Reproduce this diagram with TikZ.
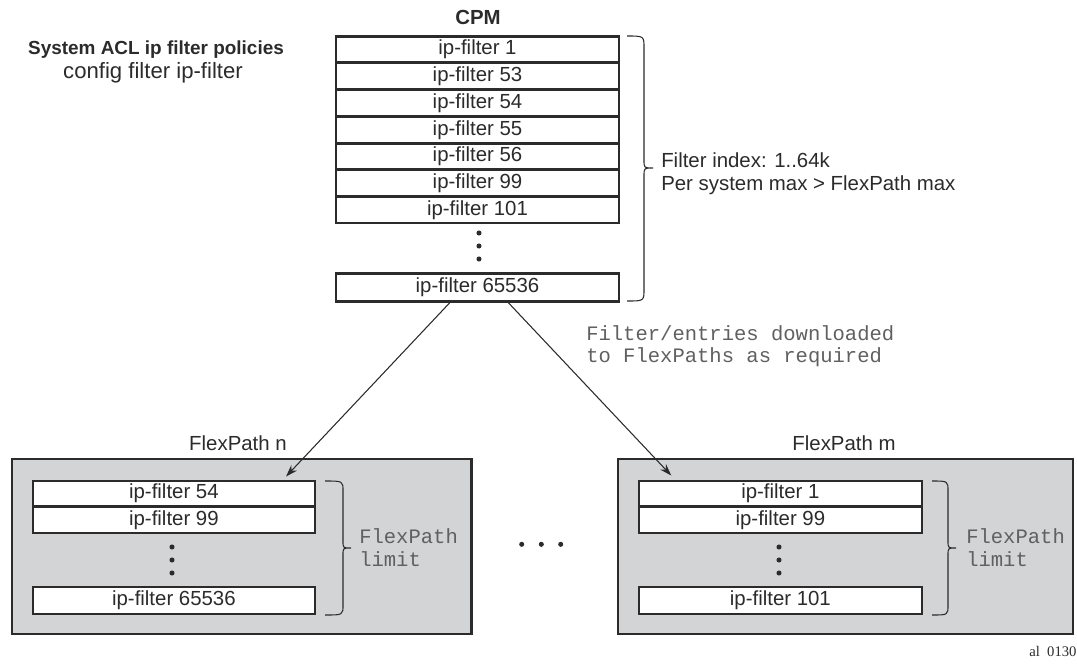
\documentclass[tikz,border=0pt]{standalone}
\usepackage{fontspec}
\setmainfont{Liberation Sans}
\setmonofont{Liberation Mono}
\newfontfamily\serifal{Liberation Serif}
\usetikzlibrary{arrows.meta,calc}
\definecolor{ink}{HTML}{2B2B2B}
\definecolor{panelgray}{HTML}{D3D4D6}
\definecolor{monogray}{HTML}{606060}
\begin{document}
\begin{tikzpicture}[x=0.75pt,y=-0.75pt,
  cell/.style={draw=ink,line width=1.7pt,fill=white,inner sep=0pt,
    minimum width=283*0.75pt,minimum height=26*0.75pt,
    font=\fontsize{15.3}{18}\selectfont,text=ink},
  panel/.style={draw=ink,line width=1.7pt,fill=panelgray,inner sep=0pt},
  sans/.style={inner sep=0pt,font=\fontsize{15.3}{18}\selectfont,text=ink},
  mono/.style={inner sep=0pt,anchor=west,font=\ttfamily\fontsize{15.4}{18}\selectfont,text=monogray},
  conn/.style={draw=ink,line width=0.8pt,-{Stealth[length=9pt,width=6pt]}},
  bracel/.style={draw=ink,line width=0.8pt},
  dotf/.style={fill=ink}]
\useasboundingbox (0,0) rectangle (1077,665);

% left titles
\node[sans,font=\bfseries\fontsize{14.2}{18}\selectfont] (title) at (156,50) {System ACL ip filter policies};
\node[sans,font=\fontsize{16.6}{20}\selectfont] (cmd) at (153,73) {config filter ip-filter};

% CPM stack
\node[sans,font=\bfseries\fontsize{15.3}{18}\selectfont] (cpm) at (478,17) {CPM};
\node[cell] (c1) at (477.5,49.5)  {ip-filter 1};
\node[cell] (c2) at (477.5,76.25) {ip-filter 53};
\node[cell] (c3) at (477.5,103)   {ip-filter 54};
\node[cell] (c4) at (477.5,129.75){ip-filter 55};
\node[cell] (c5) at (477.5,156.5) {ip-filter 56};
\node[cell] (c6) at (477.5,183.25){ip-filter 99};
\node[cell] (c7) at (477.5,210)   {ip-filter 101};
\node[cell,minimum height=28*0.75pt] (c8) at (477.5,287.5) {ip-filter 65536};
\fill[dotf] (479,233) circle[radius=1.9pt] (479,246) circle[radius=1.9pt] (479,259) circle[radius=1.9pt];

% CPM brace
\draw[bracel] (627,36) .. controls (644,36) .. (644,48) -- (644,160)
  .. controls (644,168) .. (653,168) .. controls (644,168) .. (644,176)
  -- (644,289) .. controls (644,301) .. (627,301);
\node[sans,anchor=west] (idx1) at (661,160.7) {Filter index: 1..64k};
\node[sans,anchor=west] (idx2) at (661,185) {Per system max > FlexPath max};

% download note
\node[mono] (dl1) at (586,333) {Filter/entries downloaded};
\node[mono] (dl2) at (586,357) {to FlexPaths as required};

% FlexPath panels
\node[sans] (fpn) at (238,443) {FlexPath n};
\node[sans] (fpm) at (844,443) {FlexPath m};
\node[panel,minimum width=459.5*0.75pt,minimum height=174.7*0.75pt] (pn) at (241.75,546.65) {};
\node[panel,minimum width=455*0.75pt,minimum height=174.7*0.75pt] (pm) at (845.5,546.65) {};

% left panel contents
\node[cell,minimum width=282.3*0.75pt,minimum height=25.5*0.75pt] (l1) at (173.9,493.4) {ip-filter 54};
\node[cell,minimum width=282.3*0.75pt] (l2) at (173.9,520.3) {ip-filter 99};
\node[cell,minimum width=282.3*0.75pt,minimum height=27.3*0.75pt] (l3) at (173.9,600.3) {ip-filter 65536};
\fill[dotf] (172,547) circle[radius=1.9pt] (172,560) circle[radius=1.9pt] (172,573) circle[radius=1.9pt];
\draw[bracel] (325,481) .. controls (343,481) .. (343,491) -- (343,541)
  .. controls (343,548) .. (351,548) .. controls (343,548) .. (343,555)
  -- (343,605) .. controls (343,615) .. (325,615);
\node[mono] (lim1) at (359,536) {FlexPath};
\node[mono] (lim2) at (359,559) {limit};

% right panel contents
\node[cell,minimum width=282.7*0.75pt,minimum height=25.5*0.75pt] (r1) at (780.4,493.4) {ip-filter 1};
\node[cell,minimum width=282.7*0.75pt] (r2) at (780.4,520.3) {ip-filter 99};
\node[cell,minimum width=282.7*0.75pt,minimum height=27.3*0.75pt] (r3) at (780.4,600.3) {ip-filter 101};
\fill[dotf] (779,547) circle[radius=1.9pt] (779,560) circle[radius=1.9pt] (779,573) circle[radius=1.9pt];
\draw[bracel] (932,481) .. controls (948,481) .. (948,491) -- (948,541)
  .. controls (948,548) .. (956,548) .. controls (948,548) .. (948,555)
  -- (948,605) .. controls (948,615) .. (932,615);
\node[mono] (lim3) at (966,536) {FlexPath};
\node[mono] (lim4) at (966,559) {limit};

% middle ellipsis
\fill[dotf] (521.7,544.3) circle[radius=1.9pt] (541.3,544.3) circle[radius=1.9pt] (560.7,544.3) circle[radius=1.9pt];

% connectors
\draw[conn] ($(c8.south west)!0.403!(c8.south east)$) -- ($(l1.north west)!0.894!(l1.north east)+(0,-3)$);
\draw[conn] ($(c8.south west)!0.608!(c8.south east)$) -- ($(r1.north west)!0.117!(r1.north east)+(0,-4)$);

% figure id
\node[inner sep=0pt,anchor=base west,font=\serifal\fontsize{11}{13}\selectfont,text=ink] (figid) at (1029,656) {al\ \ 0130};
\end{tikzpicture}
\end{document}
